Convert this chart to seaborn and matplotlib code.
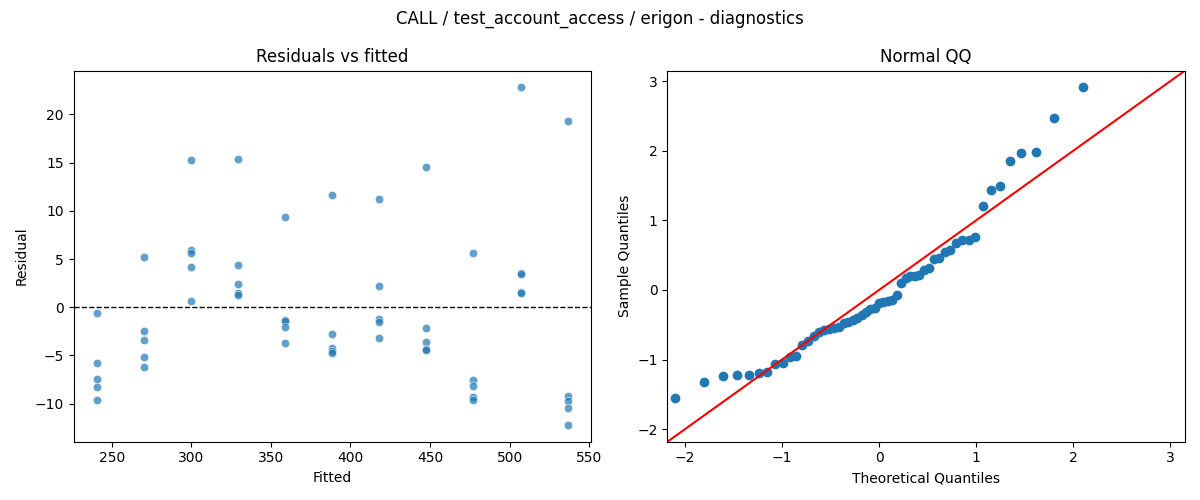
import numpy as np
import pandas as pd
import matplotlib
matplotlib.use("Agg")
import matplotlib.pyplot as plt
import seaborn as sns
from statistics import NormalDist

# fitted levels (5 runs per level)
fitted_levels = [240.8, 270.3, 299.8, 329.4, 358.9, 388.5, 418.0, 447.6, 477.1, 506.9, 536.4]

# residuals per fitted level
resid_by_level = [
    [-0.6, -5.8, -7.4, -8.3, -9.6],
    [5.2, -2.5, -3.4, -5.2, -6.2],
    [15.3, 5.9, 5.6, 4.2, 0.7],
    [15.4, 4.4, 2.4, 1.5, 1.3],
    [9.4, -1.3, -1.4, -2.0, -3.7],
    [11.6, -2.8, -4.2, -4.5, -4.7],
    [11.2, 2.2, -1.2, -1.5, -3.2],
    [14.5, -2.2, -3.6, -4.3, -4.4],
    [5.6, -7.5, -8.2, -9.3, -9.6],
    [22.8, 3.6, 3.5, 1.6, 1.5],
    [19.3, -9.2, -9.7, -10.4, -12.2],
]

title = "CALL / test_account_access / erigon - diagnostics"

rows = []
for f, rs in zip(fitted_levels, resid_by_level):
    for r in rs:
        rows.append({"fitted": f, "resid": r})
df = pd.DataFrame(rows)

# standardised residuals vs normal quantiles (plotting position i/(n+1))
n = len(df)
sample_q = np.sort((df["resid"] - df["resid"].mean()) / df["resid"].std(ddof=0))
theo_q = np.array([NormalDist().inv_cdf(i / (n + 1)) for i in range(1, n + 1)])

fig, axes = plt.subplots(1, 2, figsize=(12, 5), dpi=100)

ax = axes[0]
sns.scatterplot(data=df, x="fitted", y="resid", ax=ax, alpha=0.7)
ax.axhline(0, color="black", linestyle="--", linewidth=1)
ax.set_title("Residuals vs fitted")
ax.set_xlabel("Fitted")
ax.set_ylabel("Residual")

ax = axes[1]
sns.scatterplot(x=theo_q, y=sample_q, ax=ax, s=36, color="C0",
                edgecolor="C0", linewidth=1)
lims = [-2.18, 3.15]
ax.plot(lims, lims, color="red", linewidth=1.5)
ax.set_xlim(lims)
ax.set_ylim(lims)
ax.set_title("Normal QQ")
ax.set_xlabel("Theoretical Quantiles")
ax.set_ylabel("Sample Quantiles")

fig.suptitle(title)
fig.tight_layout()
fig.savefig("out.png")
